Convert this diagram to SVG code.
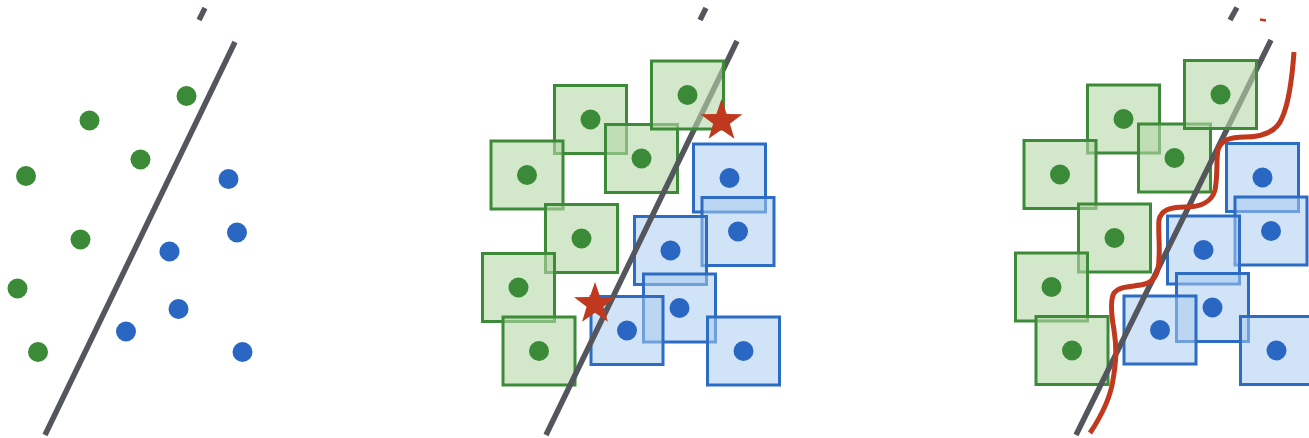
<svg xmlns="http://www.w3.org/2000/svg" width="1309" height="438" viewBox="0 0 1309 438">
<style>
.bg{fill:#ffffff}
.sep{stroke:#53565c;stroke-width:5.5;stroke-linecap:butt;fill:none}
.gd{fill:#3b8a37}
.bd{fill:#2a67c2}
.gs{fill:#b6d7a8;fill-opacity:0.6;stroke:#3d8b38;stroke-width:3}
.bs{fill:#a9ccf0;fill-opacity:0.55;stroke:#2c6cc4;stroke-width:3}
.star{fill:#c0391f}
.wave{stroke:#c0391f;stroke-width:5;fill:none;stroke-linecap:butt}
</style>
<defs>
<polygon id="starShape" points="0,-22 5.17,-7.12 20.92,-6.8 8.37,2.72 12.93,17.8 0,8.8 -12.93,17.8 -8.37,2.72 -20.92,-6.8 -5.17,-7.12"/>
</defs>
<rect class="bg" x="0" y="0" width="1309" height="438"/>

<!-- Panel 1: points only -->
<g id="panel1">
  <g id="connectors1">
    <line class="sep" x1="205" y1="8" x2="199" y2="20"/>
    <line class="sep" x1="235" y1="42" x2="45" y2="435"/>
  </g>
  <g id="p1-g1"><circle class="gd" cx="186.5" cy="96" r="10"/></g>
  <g id="p1-g2"><circle class="gd" cx="89.5" cy="120.5" r="10"/></g>
  <g id="p1-g3"><circle class="gd" cx="140.5" cy="159.5" r="10"/></g>
  <g id="p1-g4"><circle class="gd" cx="26" cy="176" r="10"/></g>
  <g id="p1-g5"><circle class="gd" cx="80.5" cy="239.5" r="10"/></g>
  <g id="p1-g6"><circle class="gd" cx="17.5" cy="288.5" r="10"/></g>
  <g id="p1-g7"><circle class="gd" cx="38" cy="352" r="10"/></g>
  <g id="p1-b1"><circle class="bd" cx="228.5" cy="179" r="10"/></g>
  <g id="p1-b2"><circle class="bd" cx="237" cy="232.5" r="10"/></g>
  <g id="p1-b3"><circle class="bd" cx="169.5" cy="251.5" r="10"/></g>
  <g id="p1-b4"><circle class="bd" cx="178.5" cy="309" r="10"/></g>
  <g id="p1-b5"><circle class="bd" cx="126" cy="331.5" r="10"/></g>
  <g id="p1-b6"><circle class="bd" cx="242.5" cy="352" r="10"/></g>
</g>

<!-- Panel 2: squares with adversarial stars -->
<g id="panel2">
  <g id="p2-g2"><rect class="gs" x="554.5" y="85.5" width="72" height="68"/><circle class="gd" cx="590.5" cy="119.5" r="10"/></g>
  <g id="p2-g3"><rect class="gs" x="605.5" y="124.5" width="72" height="68"/><circle class="gd" cx="641.5" cy="158.5" r="10"/></g>
  <g id="p2-g4"><rect class="gs" x="491" y="141" width="72" height="68"/><circle class="gd" cx="527" cy="175" r="10"/></g>
  <g id="p2-g5"><rect class="gs" x="545.5" y="204.5" width="72" height="68"/><circle class="gd" cx="581.5" cy="238.5" r="10"/></g>
  <g id="p2-g6"><rect class="gs" x="482.5" y="253.5" width="72" height="68"/><circle class="gd" cx="518.5" cy="287.5" r="10"/></g>
  <g id="p2-g7"><rect class="gs" x="503" y="317" width="72" height="68"/><circle class="gd" cx="539" cy="351" r="10"/></g>
  <g id="p2-b1"><rect class="bs" x="693.5" y="144" width="72" height="68"/><circle class="bd" cx="729.5" cy="178" r="10"/></g>
  <g id="p2-b2"><rect class="bs" x="702" y="197.5" width="72" height="68"/><circle class="bd" cx="738" cy="231.5" r="10"/></g>
  <g id="p2-b3"><rect class="bs" x="634.5" y="216.5" width="72" height="68"/><circle class="bd" cx="670.5" cy="250.5" r="10"/></g>
  <g id="p2-b4"><rect class="bs" x="643.5" y="274" width="72" height="68"/><circle class="bd" cx="679.5" cy="308" r="10"/></g>
  <g id="p2-b5"><rect class="bs" x="591" y="296.5" width="72" height="68"/><circle class="bd" cx="627" cy="330.5" r="10"/></g>
  <g id="p2-b6"><rect class="bs" x="707.5" y="317" width="72" height="68"/><circle class="bd" cx="743.5" cy="351" r="10"/></g>
  <g id="connectors2">
    <line class="sep" x1="706" y1="8" x2="700" y2="20"/>
    <line class="sep" x1="737" y1="41" x2="546" y2="435"/>
  </g>
  <g id="p2-g1"><rect class="gs" x="651.5" y="61" width="72" height="68"/><circle class="gd" cx="687.5" cy="95" r="10"/></g>
  <g id="p2-star1"><use href="#starShape" class="star" transform="translate(721.5,121)"/></g>
  <g id="p2-star2"><use href="#starShape" class="star" transform="translate(595,304)"/></g>
</g>

<!-- Panel 3: squares with wavy boundary -->
<g id="panel3" transform="translate(533,-0.5)">
  <g id="p3-g2"><rect class="gs" x="554.5" y="85.5" width="72" height="68"/><circle class="gd" cx="590.5" cy="119.5" r="10"/></g>
  <g id="p3-g3"><rect class="gs" x="605.5" y="124.5" width="72" height="68"/><circle class="gd" cx="641.5" cy="158.5" r="10"/></g>
  <g id="p3-g4"><rect class="gs" x="491" y="141" width="72" height="68"/><circle class="gd" cx="527" cy="175" r="10"/></g>
  <g id="p3-g5"><rect class="gs" x="545.5" y="204.5" width="72" height="68"/><circle class="gd" cx="581.5" cy="238.5" r="10"/></g>
  <g id="p3-g6"><rect class="gs" x="482.5" y="253.5" width="72" height="68"/><circle class="gd" cx="518.5" cy="287.5" r="10"/></g>
  <g id="p3-g7"><rect class="gs" x="503" y="317" width="72" height="68"/><circle class="gd" cx="539" cy="351" r="10"/></g>
  <g id="p3-b1"><rect class="bs" x="693.5" y="144" width="72" height="68"/><circle class="bd" cx="729.5" cy="178" r="10"/></g>
  <g id="p3-b2"><rect class="bs" x="702" y="197.5" width="72" height="68"/><circle class="bd" cx="738" cy="231.5" r="10"/></g>
  <g id="p3-b3"><rect class="bs" x="634.5" y="216.5" width="72" height="68"/><circle class="bd" cx="670.5" cy="250.5" r="10"/></g>
  <g id="p3-b4"><rect class="bs" x="643.5" y="274" width="72" height="68"/><circle class="bd" cx="679.5" cy="308" r="10"/></g>
  <g id="p3-b5"><rect class="bs" x="591" y="296.5" width="72" height="68"/><circle class="bd" cx="627" cy="330.5" r="10"/></g>
  <g id="p3-b6"><rect class="bs" x="707.5" y="317" width="72" height="68"/><circle class="bd" cx="743.5" cy="351" r="10"/></g>
  <g id="connectors3">
    <line class="sep" x1="704" y1="8" x2="697" y2="20.5"/>
    <line class="sep" x1="738" y1="40.5" x2="543" y2="435.5"/>
  </g>
  <g id="p3-g1"><rect class="gs" x="651.5" y="61" width="72" height="68"/><circle class="gd" cx="687.5" cy="95" r="10"/></g>
</g>
<g id="wave-boundary">
  <path class="wave" d="M1090,433 C1100,418 1110,400 1113,380 C1116,362 1117,350 1114,330 C1111,313 1110,300 1114,293 C1120,285 1135,287 1145,284 C1156,281 1159,270 1159,258 C1160,245 1158,230 1159,220 C1161,210 1170,207 1185,207 C1200,207 1212,202 1215,190 C1218,175 1216,160 1218,150 C1221,140 1230,137 1245,137 C1262,137 1276,133 1282,118 C1288,105 1292,80 1294,52"/>
  <line x1="1260" y1="19.5" x2="1266" y2="20.5" stroke="#c0391f" stroke-width="2.5"/>
</g>
</svg>
